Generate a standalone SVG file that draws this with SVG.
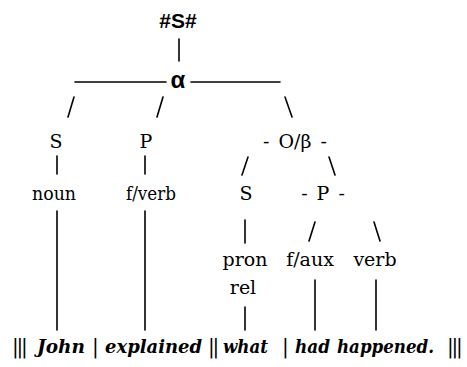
<svg xmlns="http://www.w3.org/2000/svg" width="467" height="367" viewBox="0 0 467 367">
<style>
.lbl{font-family:"DejaVu Serif",serif;font-size:19px;fill:#000;text-anchor:middle}
.sans{font-family:"Liberation Sans",sans-serif;font-weight:bold;fill:#000;text-anchor:middle}
.word{font-family:"DejaVu Serif",serif;font-size:19px;font-weight:bold;font-style:italic;fill:#000}
.bar{font-family:"DejaVu Serif",serif;font-size:20px;fill:#000;letter-spacing:-2.3px}
.ln{stroke:#000;stroke-width:1.6;fill:none;stroke-linecap:round}
</style>
<rect width="467" height="367" fill="#fff"/>
<g id="connectors" class="ln">
<line x1="179" y1="39" x2="179" y2="61"/>
<line x1="75" y1="82" x2="166" y2="82"/>
<line x1="191" y1="82" x2="280" y2="82"/>
<line x1="68" y1="117" x2="74" y2="97"/>
<line x1="157" y1="117" x2="163" y2="97"/>
<line x1="285" y1="97" x2="292" y2="117"/>
<line x1="57" y1="156" x2="57" y2="174"/>
<line x1="145" y1="156" x2="145" y2="174"/>
<line x1="242" y1="175" x2="248" y2="157"/>
<line x1="329" y1="157" x2="335" y2="175"/>
<line x1="57" y1="211" x2="57" y2="330"/>
<line x1="145" y1="211" x2="145" y2="330"/>
<line x1="245" y1="220" x2="245" y2="243"/>
<line x1="309" y1="241" x2="315" y2="222"/>
<line x1="374" y1="222" x2="380" y2="241"/>
<line x1="245" y1="307" x2="245" y2="330"/>
<line x1="315" y1="280" x2="315" y2="330"/>
<line x1="376" y1="280" x2="376" y2="330"/>
</g>
<g id="root"><text class="sans" x="178" y="28" font-size="21">#S#</text></g>
<g id="alpha"><text class="sans" x="178" y="88" font-size="24" font-weight="normal">α</text></g>
<g id="S1"><text class="lbl" x="56" y="148">S</text></g>
<g id="P1"><text class="lbl" x="146" y="148">P</text></g>
<g id="Obeta"><text class="lbl" x="295" y="148">- <tspan dx="3">O/β</tspan><tspan dx="3"> -</tspan></text></g>
<g id="noun"><text class="lbl" x="54" y="200" textLength="44" lengthAdjust="spacingAndGlyphs">noun</text></g>
<g id="fverb"><text class="lbl" x="151" y="200" textLength="50" lengthAdjust="spacingAndGlyphs">f/verb</text></g>
<g id="S2"><text class="lbl" x="246" y="200">S</text></g>
<g id="P2"><text class="lbl" x="323" y="200">- <tspan dx="3">P</tspan><tspan dx="3"> -</tspan></text></g>
<g id="pronrel"><text class="lbl" x="245" y="266">pron</text><text class="lbl" x="243" y="294">rel</text></g>
<g id="faux"><text class="lbl" x="310" y="266">f/aux</text></g>
<g id="verb"><text class="lbl" x="375" y="266">verb</text></g>
<g id="sentence">
<text class="bar" x="12" y="353">|||</text>
<text class="word" x="37" y="353" textLength="48" lengthAdjust="spacingAndGlyphs">John</text>
<text class="bar" x="92" y="353">|</text>
<text class="word" x="105" y="353" textLength="97" lengthAdjust="spacingAndGlyphs">explained</text>
<text class="bar" x="208" y="353">||</text>
<text class="word" x="223" y="353" textLength="45" lengthAdjust="spacingAndGlyphs">what</text>
<text class="bar" x="282" y="353">|</text>
<text class="word" x="295" y="353" textLength="35" lengthAdjust="spacingAndGlyphs">had</text>
<text class="word" x="337" y="353" textLength="97" lengthAdjust="spacingAndGlyphs">happened.</text>
<text class="bar" x="447" y="353">|||</text>
</g>
</svg>
